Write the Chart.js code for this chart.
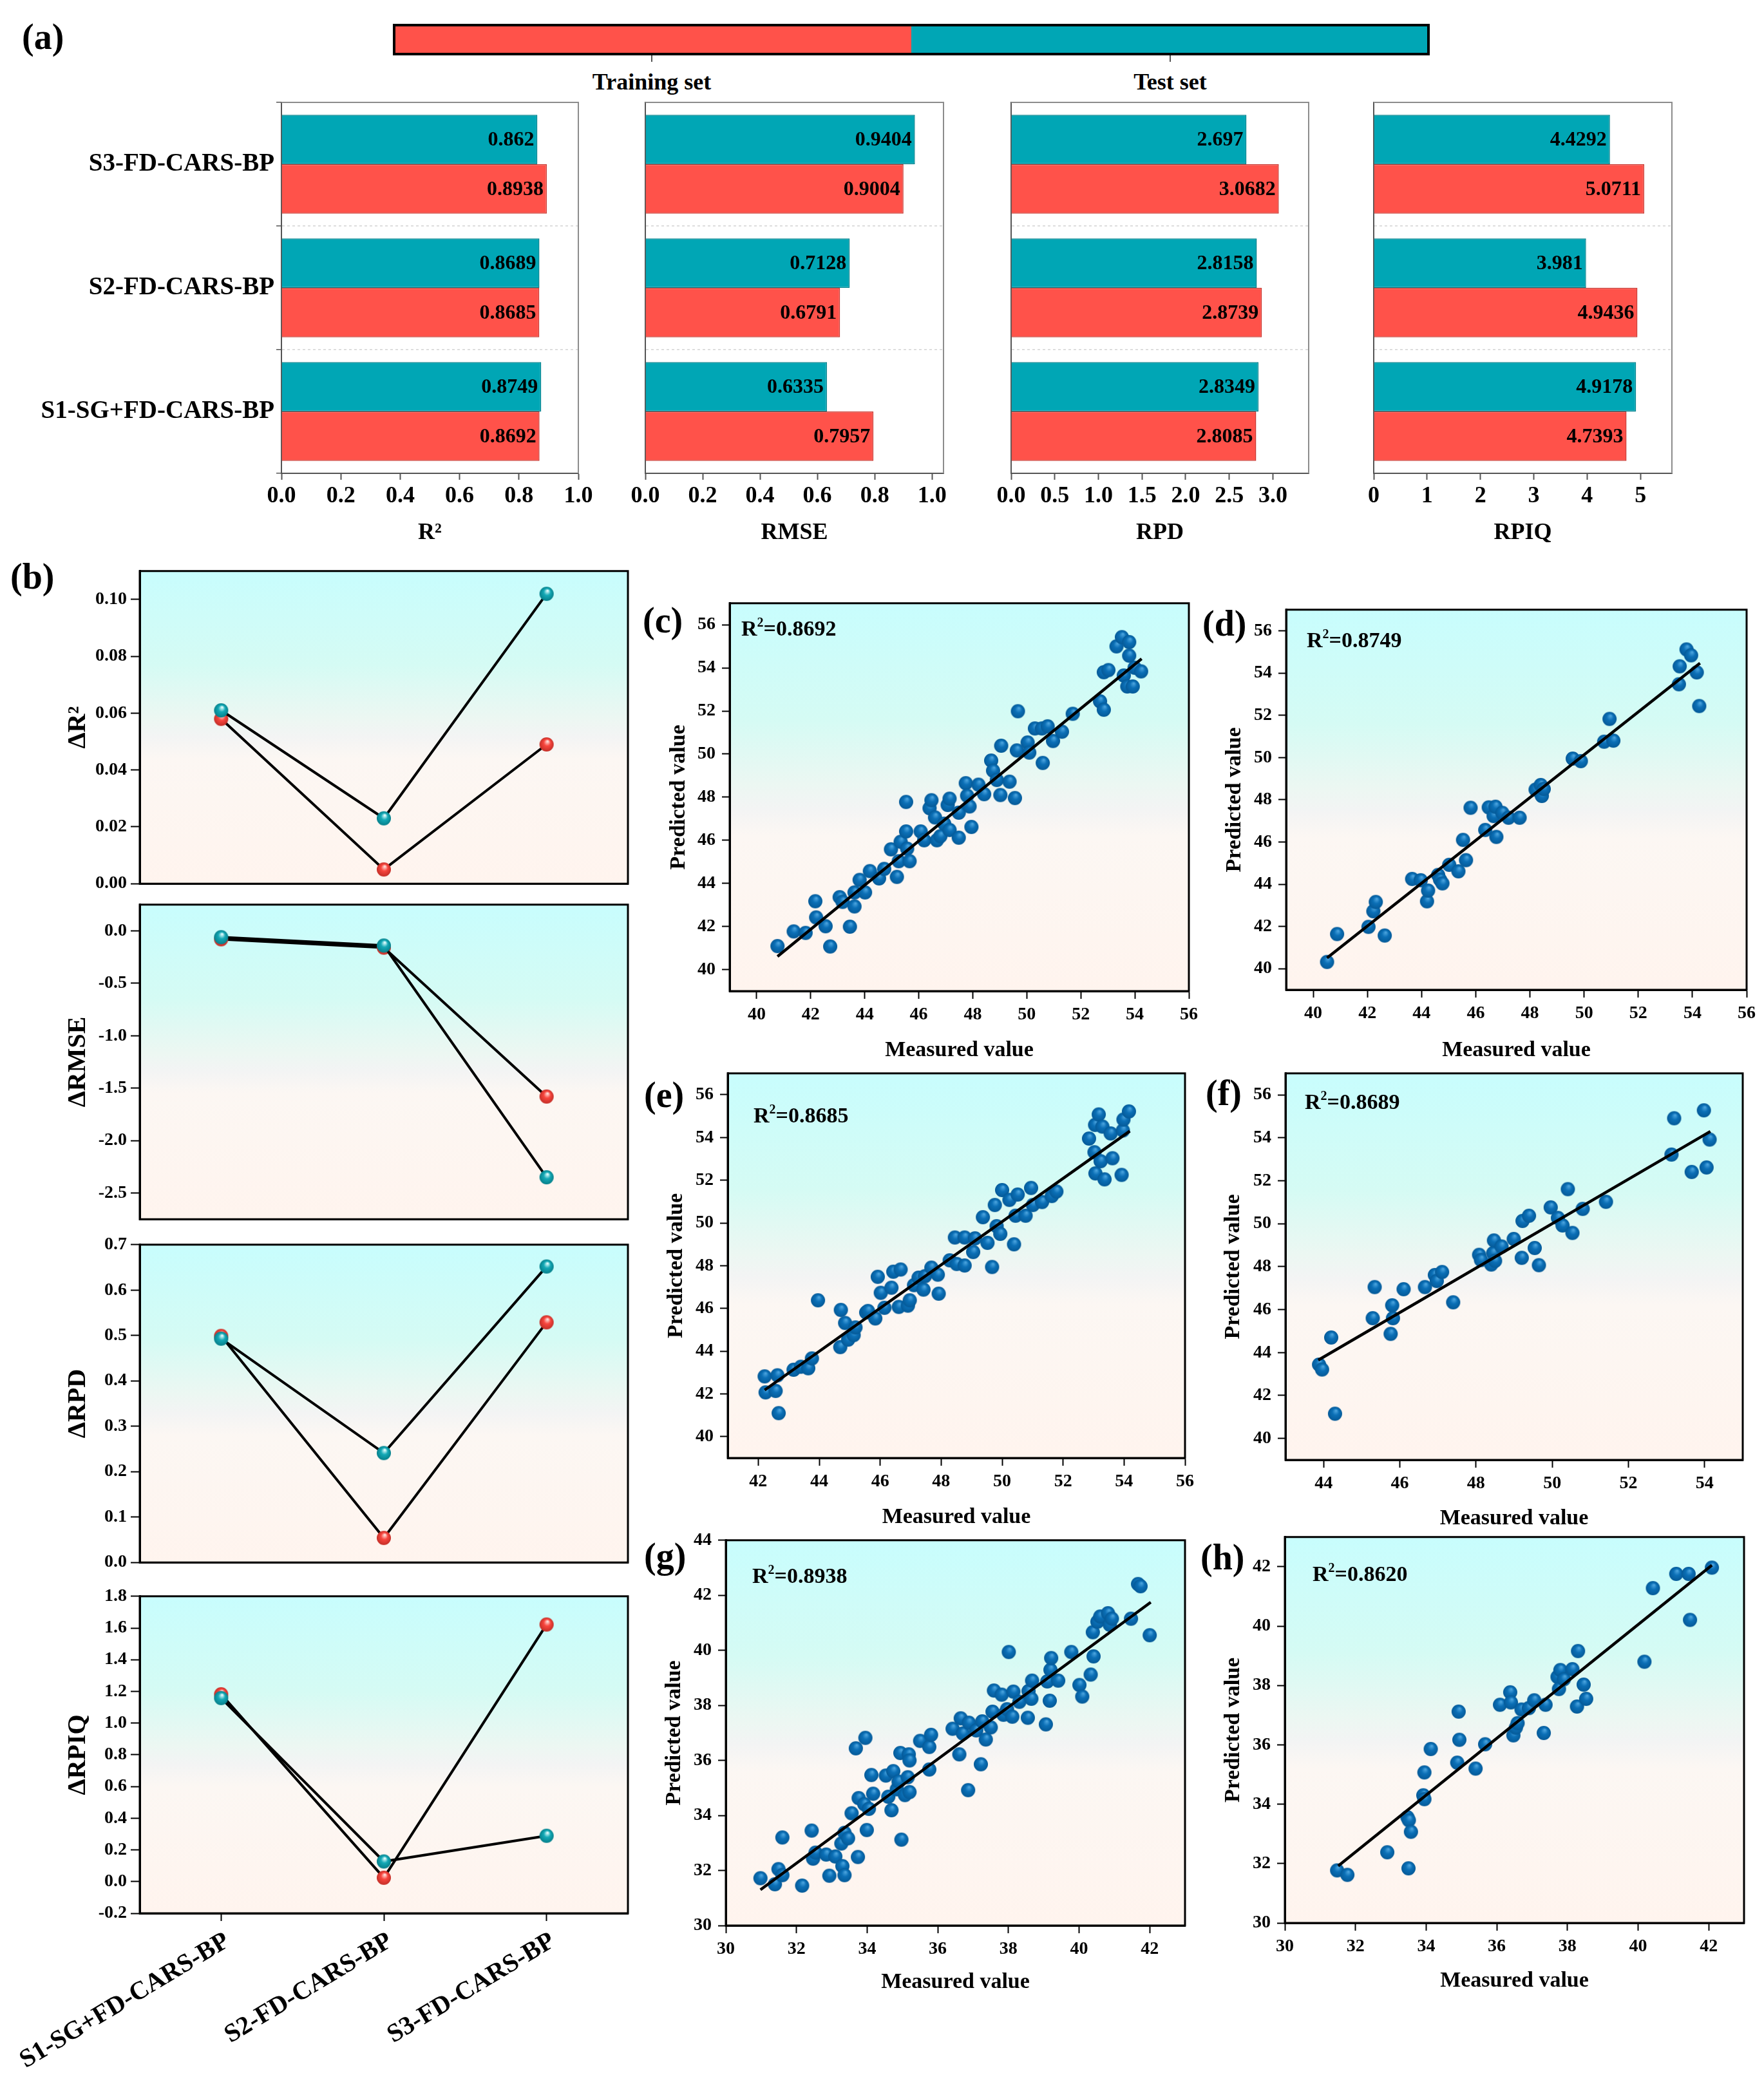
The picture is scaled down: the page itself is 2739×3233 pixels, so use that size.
<!DOCTYPE html>
<html>
<head>
<meta charset="utf-8">
<script src="https://cdn.jsdelivr.net/npm/chart.js@4.4.0/dist/chart.umd.min.js"></script>
<style>
html, body { margin: 0; padding: 0; background: #fff; }
#page { position: relative; width: 2739px; height: 3233px; overflow: hidden; background: #fff;
        font-family: 'Liberation Serif', 'Times New Roman', serif; }
canvas { position: absolute; }
.lab { position: absolute; font-weight: bold; color: #000; white-space: nowrap; }
.panel { font-size: 56px; line-height: 60px; z-index: 5; }
.leg { font-size: 36px; line-height: 40px; transform: translateX(-50%); }
</style>
</head>
<body>
<div id="page">
  <div class="lab panel" style="left:34px;top:27px">(a)</div>
  <div class="lab panel" style="left:16px;top:865px">(b)</div>
  <div class="lab panel" style="left:998px;top:933px">(c)</div>
  <div class="lab panel" style="left:1867px;top:938px">(d)</div>
  <div class="lab panel" style="left:1000px;top:1670px">(e)</div>
  <div class="lab panel" style="left:1872px;top:1667px">(f)</div>
  <div class="lab panel" style="left:1000px;top:2386px">(g)</div>
  <div class="lab panel" style="left:1864px;top:2388px">(h)</div>

  <!-- legend strip: training / test -->
  <div style="position:absolute;left:610px;top:37px;width:1610px;height:49px;box-sizing:border-box;border:4px solid #000;background:linear-gradient(to right,#ff524a 50%,#00a6b5 50%)"></div>
  <div style="position:absolute;left:1011px;top:86px;width:2px;height:10px;background:#555"></div>
  <div style="position:absolute;left:1816px;top:86px;width:2px;height:10px;background:#555"></div>
  <div class="lab leg" style="left:1012px;top:107px">Training set</div>
  <div class="lab leg" style="left:1817px;top:107px">Test set</div>
</div>

<script>
// ---- (a) bar panels ----
const CATS = ['S3-FD-CARS-BP', 'S2-FD-CARS-BP', 'S1-SG+FD-CARS-BP'];
const R2_TEST = [0.862, 0.8689, 0.8749];
const R2_TRAIN = [0.8938, 0.8685, 0.8692];
const RMSE_TEST = [0.9404, 0.7128, 0.6335];
const RMSE_TRAIN = [0.9004, 0.6791, 0.7957];
const RPD_TEST = [2.697, 2.8158, 2.8349];
const RPD_TRAIN = [3.0682, 2.8739, 2.8085];
const RPIQ_TEST = [4.4292, 3.981, 4.9178];
const RPIQ_TRAIN = [5.0711, 4.9436, 4.7393];
const TICKS_01 = [0, 0.2, 0.4, 0.6, 0.8, 1.0];
const TICKS_RPD = [0, 0.5, 1.0, 1.5, 2.0, 2.5, 3.0];
const TICKS_RPIQ = [0, 1, 2, 3, 4, 5];

// ---- (b) difference panels ----
const MODELS = ['S1-SG+FD-CARS-BP', 'S2-FD-CARS-BP', 'S3-FD-CARS-BP'];
const D_R2_TEST = [0.061, 0.023, 0.102];
const D_R2_TRAIN = [0.058, 0.005, 0.049];
const D_RMSE_TEST = [-0.06, -0.14, -2.35];
const D_RMSE_TRAIN = [-0.08, -0.16, -1.58];
const D_RPD_TEST = [0.493, 0.241, 0.652];
const D_RPD_TRAIN = [0.499, 0.054, 0.529];
const D_RPIQ_TEST = [1.158, 0.127, 0.289];
const D_RPIQ_TRAIN = [1.182, 0.024, 1.622];
const TICKS_DR2 = [0, 0.02, 0.04, 0.06, 0.08, 0.10];
const TICKS_DRMSE = [-2.5, -2.0, -1.5, -1.0, -0.5, 0.0];
const TICKS_DRPD = [0, 0.1, 0.2, 0.3, 0.4, 0.5, 0.6, 0.7];
const TICKS_DRPIQ = [-0.2, 0, 0.2, 0.4, 0.6, 0.8, 1.0, 1.2, 1.4, 1.6, 1.8];

// ---- (c)-(h) measured vs predicted ----
const C_MEAS = [40.77,41.37,41.81,42.17,42.20,42.55,42.72,43.07,43.18,43.45,43.62,43.62,43.81,44.01,44.19,44.53,44.72,44.97,45.19,45.26,45.33,45.53,45.53,45.57,45.66,46.07,46.20,46.40,46.47,46.60,46.67,46.80,46.94,47.07,47.14,47.14,47.48,47.48,47.74,47.79,47.88,47.95,48.21,48.42,48.68,48.75,48.89,49.02,49.05,49.36,49.56,49.63,49.67,50.03,50.09,50.30,50.56,50.59,50.77,50.97,51.30,51.70,52.71,52.85,52.85,53.02,53.32,53.52,53.59,53.72,53.79,53.79,53.92,53.99,54.23];
const C_PRED = [41.09,41.77,41.70,43.17,42.42,42.01,41.07,43.36,43.14,41.99,42.93,43.58,44.16,43.58,44.57,44.23,44.67,45.58,44.30,45.03,45.93,47.78,46.41,45.61,45.03,46.41,46.00,47.49,47.86,47.06,46.00,46.19,46.77,47.64,47.93,46.48,47.28,46.12,48.65,48.07,47.57,46.62,48.58,48.14,49.70,49.23,48.80,48.10,50.39,48.72,47.96,50.17,51.99,50.54,50.07,51.19,51.19,49.59,51.29,50.61,51.04,51.87,52.45,52.06,53.80,53.90,55.00,55.43,53.65,53.14,55.20,54.57,53.14,54.01,53.84];
const C_FIT_X = [40.77, 54.25];
const C_FIT_Y = [40.61, 54.42];

const D_MEAS = [40.51,40.88,42.04,42.22,42.31,42.64,43.65,43.97,44.20,44.24,44.61,44.68,44.77,45.02,45.36,45.53,45.64,45.81,46.35,46.48,46.66,46.73,46.76,46.98,47.21,47.62,48.21,48.40,48.44,48.51,49.58,49.88,50.74,50.94,51.08,53.50,53.53,53.78,53.95,54.16,54.25];
const D_PRED = [40.32,41.64,41.98,42.72,43.16,41.57,44.25,44.19,43.19,43.70,44.44,44.22,44.04,44.92,44.61,46.10,45.14,47.62,46.57,47.64,47.23,47.67,46.24,47.38,47.15,47.15,48.48,48.70,48.18,48.51,49.95,49.83,50.75,51.83,50.80,53.47,54.32,55.12,54.84,54.03,52.44];
const D_FIT_X = [40.51, 54.28];
const D_FIT_Y = [40.51, 54.47];

const E_MEAS = [42.21,42.24,42.57,42.63,42.67,43.16,43.40,43.64,43.76,43.96,44.69,44.71,44.85,44.95,45.13,45.19,45.54,45.60,45.84,45.92,46.02,46.14,46.37,46.43,46.61,46.67,46.91,46.97,47.11,47.26,47.42,47.47,47.68,47.89,47.92,48.28,48.45,48.51,48.77,48.77,49.05,49.11,49.37,49.52,49.67,49.76,49.82,49.94,50.00,50.24,50.39,50.44,50.51,50.77,50.95,51.01,51.31,51.63,51.78,52.85,53.03,53.05,53.06,53.17,53.23,53.29,53.36,53.56,53.62,53.92,53.96,53.98,54.16];
const E_PRED = [42.82,42.07,42.14,42.87,41.10,43.13,43.27,43.20,43.66,46.38,44.19,45.93,45.32,44.54,44.75,45.11,45.81,45.88,45.53,47.48,46.73,46.03,46.97,47.72,46.07,47.82,46.13,46.38,47.09,47.44,46.88,47.51,47.91,47.58,46.69,48.25,49.32,48.08,49.32,48.01,48.64,49.28,50.27,49.07,47.94,50.84,49.85,49.49,51.54,51.08,49.00,50.34,51.33,50.34,51.64,50.84,50.98,51.26,51.47,53.95,53.31,54.59,52.32,55.08,52.89,54.51,52.04,54.19,53.03,52.25,54.33,54.84,55.22];
const E_FIT_X = [42.21, 54.19];
const E_FIT_Y = [42.18, 54.30];

const F_MEAS = [43.88,43.96,44.20,44.30,45.29,45.34,45.76,45.80,45.82,46.10,46.66,46.92,46.97,47.11,47.40,48.08,48.13,48.40,48.45,48.47,48.50,48.67,48.99,49.20,49.22,49.39,49.54,49.65,49.96,50.15,50.27,50.41,50.53,50.80,51.41,53.13,53.20,53.66,53.98,54.05,54.13];
const F_PRED = [43.44,43.21,44.70,41.15,45.60,47.05,44.87,46.20,45.60,46.95,47.05,47.61,47.33,47.75,46.34,48.55,48.31,48.10,48.63,49.22,48.27,48.94,49.29,48.41,50.13,50.37,48.87,48.07,50.76,50.27,49.92,51.61,49.57,50.69,51.02,53.22,54.91,52.41,55.28,52.62,53.92];
const F_FIT_X = [43.86, 54.15];
const F_FIT_Y = [43.65, 54.30];

const G_MEAS = [30.98,31.39,31.49,31.60,31.60,32.16,32.43,32.47,32.54,32.84,32.93,33.10,33.27,33.30,33.36,33.36,33.46,33.56,33.68,33.74,33.76,33.92,33.95,33.99,34.05,34.12,34.17,34.53,34.60,34.69,34.74,34.84,34.89,34.94,34.97,35.07,35.15,35.18,35.20,35.20,35.50,35.76,35.76,35.81,36.42,36.61,36.65,36.71,36.86,36.88,37.09,37.22,37.26,37.36,37.50,37.55,37.59,37.81,37.86,37.96,38.01,38.11,38.14,38.31,38.55,38.57,38.65,38.67,39.06,39.10,39.17,39.19,39.21,39.41,39.78,40.01,40.09,40.33,40.39,40.41,40.52,40.60,40.82,40.87,40.93,41.47,41.67,41.74,42.00];
const G_PRED = [31.72,31.50,32.05,31.83,33.20,31.45,33.45,32.43,32.65,32.58,31.81,32.51,32.98,32.16,31.83,33.37,33.17,34.08,36.44,32.49,34.63,34.41,36.82,33.47,34.24,35.47,34.79,35.45,34.68,34.19,35.61,34.95,35.23,36.27,33.12,34.74,35.39,36.22,36.00,34.85,36.71,35.67,36.49,36.93,37.15,36.22,37.53,36.98,34.92,37.37,37.09,35.86,37.42,36.76,37.20,37.77,38.54,38.39,37.66,37.86,39.94,37.59,38.50,38.13,37.55,38.52,38.24,38.90,37.31,38.87,38.17,39.29,39.72,38.90,39.94,38.74,38.32,39.12,40.66,39.78,41.04,41.23,41.35,40.93,41.15,41.15,42.41,42.33,40.55];
const G_FIT_X = [30.98, 42.03];
const G_FIT_Y = [31.30, 41.75];

const H_MEAS = [31.48,31.77,32.90,33.47,33.51,33.50,33.57,33.92,33.95,33.95,34.13,34.88,34.92,34.94,35.40,35.67,36.09,36.38,36.40,36.47,36.54,36.59,36.70,36.91,37.06,37.33,37.38,37.72,37.76,37.80,37.90,38.14,38.27,38.30,38.46,38.53,40.18,40.42,41.08,41.43,41.47,42.09];
const H_PRED = [31.77,31.62,32.38,33.56,33.46,31.84,33.07,34.30,34.17,35.07,35.86,35.40,37.12,36.17,35.20,36.02,37.35,37.77,37.43,36.32,36.58,36.73,37.19,37.24,37.50,36.40,37.35,38.29,37.88,38.52,38.21,38.55,37.29,39.16,38.03,37.55,38.80,41.28,41.76,41.76,40.21,41.97];
const H_FIT_X = [31.51, 42.09];
const H_FIT_Y = [31.92, 42.05];

const TICKS_40_56 = [40, 42, 44, 46, 48, 50, 52, 54, 56];
const TICKS_42_56 = [42, 44, 46, 48, 50, 52, 54, 56];
const TICKS_44_54 = [44, 46, 48, 50, 52, 54];
const TICKS_30_42 = [30, 32, 34, 36, 38, 40, 42];
const TICKS_30_44 = [30, 32, 34, 36, 38, 40, 42, 44];

const TEAL = '#00a6b5', TEAL_EDGE = '#00808c';
const RED = '#ff524a', RED_EDGE = '#c93a33';
const FONT = "'Liberation Serif', 'Times New Roman', serif";

Chart.defaults.font.family = FONT;
Chart.defaults.font.weight = 'bold';
Chart.defaults.color = '#000';

const page = document.getElementById('page');

function mkCanvas(x, y, w, h) {
    const c = document.createElement('canvas');
    c.width = w; c.height = h;
    c.style.left = x + 'px'; c.style.top = y + 'px';
    c.style.width = w + 'px'; c.style.height = h + 'px';
    page.appendChild(c);
    return c;
}

// little shaded ball used as point style
function sphere(r, light, base, dark) {
    const c = document.createElement('canvas');
    c.width = c.height = 2 * r + 2;
    const g = c.getContext('2d');
    const grd = g.createRadialGradient(r + 1 + r * 0.15, r + 1 - r * 0.45, r * 0.05, r + 1, r + 1, r);
    grd.addColorStop(0, light);
    grd.addColorStop(0.45, base);
    grd.addColorStop(1, dark);
    g.fillStyle = grd;
    g.beginPath(); g.arc(r + 1, r + 1, r, 0, Math.PI * 2); g.fill();
    return c;
}
const SPH_TEAL = sphere(11, '#e6ffff', '#14a9b6', '#06808b');
const SPH_RED = sphere(11, '#ffe2de', '#f8463e', '#c52f28');
const SPH_BLUE = sphere(11, '#4aa3de', '#0b6fb6', '#055a98');

function fixedTicks(arr) {
    return s => { s.ticks = arr.map(v => ({value: v})); };
}

const bgPlugin = {
    id: 'bgGrad',
    beforeDraw(chart) {
        const a = chart.chartArea, ctx = chart.ctx;
        const g = ctx.createLinearGradient(0, a.top, 0, a.bottom);
        g.addColorStop(0, '#c8fdfd');
        g.addColorStop(0.3, '#d5fbf4');
        g.addColorStop(0.47, '#ecf7f2');
        g.addColorStop(0.53, '#f3f4f4');
        g.addColorStop(0.6, '#fcf7f3');
        g.addColorStop(1, '#fff4ee');
        ctx.save();
        ctx.fillStyle = g;
        ctx.fillRect(a.left, a.top, a.right - a.left, a.bottom - a.top);
        ctx.restore();
    }
};

function edgePlugin(color, width, full) {
    return {
        id: 'edge',
        afterDraw(chart) {
            const a = chart.chartArea, ctx = chart.ctx;
            ctx.save();
            ctx.strokeStyle = color; ctx.lineWidth = width;
            ctx.beginPath();
            if (full) {
                ctx.rect(a.left, a.top, a.right - a.left, a.bottom - a.top);
            } else {
                ctx.moveTo(a.left, a.top); ctx.lineTo(a.right, a.top); ctx.lineTo(a.right, a.bottom);
            }
            ctx.stroke();
            ctx.restore();
        }
    };
}

const barLabelPlugin = {
    id: 'barLabels',
    afterDatasetsDraw(chart) {
        const ctx = chart.ctx;
        ctx.save();
        ctx.font = 'bold 32px ' + FONT;
        ctx.fillStyle = '#000'; ctx.textAlign = 'right'; ctx.textBaseline = 'middle';
        chart.data.datasets.forEach((ds, i) => {
            chart.getDatasetMeta(i).data.forEach((el, j) => {
                ctx.fillText(String(ds.data[j]), el.x - 5, el.y + 1);
            });
        });
        ctx.restore();
    }
};

function r2Plugin(text, off) {
    return {
        id: 'r2',
        afterDatasetsDraw(chart) {
            const a = chart.chartArea, ctx = chart.ctx;
            let x = a.left + off[0];
            const y = a.top + off[1] + 12;
            ctx.save();
            ctx.fillStyle = '#000'; ctx.textAlign = 'left'; ctx.textBaseline = 'alphabetic';
            ctx.font = 'bold 34px ' + FONT;
            ctx.fillText('R', x, y); x += ctx.measureText('R').width;
            ctx.font = 'bold 20px ' + FONT;
            ctx.fillText('2', x, y - 14); x += ctx.measureText('2').width;
            ctx.font = 'bold 34px ' + FONT;
            ctx.fillText('=' + text, x, y);
            ctx.restore();
        }
    };
}

function barPanel(cfg) {
    const [bx, bw] = cfg.box;
    const [al, ar] = cfg.area;
    const top = 100, h = 749, areaTop = 159, areaBot = 735;
    const cvs = mkCanvas(bx, top, bw, h);
    new Chart(cvs, {
        type: 'bar',
        data: {
            labels: CATS,
            datasets: [
                {label: 'Test set', data: cfg.test, backgroundColor: TEAL, borderColor: TEAL_EDGE,
                 borderWidth: 1.5, categoryPercentage: 0.8, barPercentage: 1.0},
                {label: 'Training set', data: cfg.train, backgroundColor: RED, borderColor: RED_EDGE,
                 borderWidth: 1.5, categoryPercentage: 0.8, barPercentage: 1.0}
            ]
        },
        options: {
            indexAxis: 'y', responsive: false, animation: false, devicePixelRatio: 1,
            layout: {padding: {top: areaTop - top, right: bx + bw - ar, left: 0, bottom: 0}},
            plugins: {legend: {display: false}, tooltip: {enabled: false}},
            scales: {
                x: {
                    type: 'linear', min: 0, max: cfg.max,
                    afterBuildTicks: fixedTicks(cfg.ticks),
                    afterFit: s => { s.height = top + h - areaBot; },
                    grid: {drawOnChartArea: false, drawTicks: true, tickLength: 10, tickColor: '#555', tickWidth: 2},
                    border: {color: '#555', width: 2},
                    ticks: {padding: 4, autoSkip: false, maxRotation: 0, font: {size: 36},
                            callback: v => v.toFixed(cfg.dec)},
                    title: {display: true, text: cfg.title, font: {size: 36}, padding: 0}
                },
                y: {
                    afterFit: s => { s.width = al - bx; },
                    grid: {offset: true, color: '#d4d4d4', lineWidth: 1.5, drawTicks: cfg.cats,
                           tickLength: 8, tickColor: '#555'},
                    border: {color: '#555', width: 2, dash: [4, 4]},
                    ticks: {display: cfg.cats, padding: 3, font: {size: 39}}
                }
            }
        },
        plugins: [edgePlugin('#8c8c8c', 2, false), barLabelPlugin]
    });
}

function deltaPanel(cfg) {
    // canvas starts at the page edge so the slanted model names fit
    const x = 0, w = 990, al = 217, ar = 976, titleAt = 98;
    const [t, b] = cfg.area;
    const ctop = t - 22;
    const cbot = cfg.showX ? 3233 : b + 22;
    const cvs = mkCanvas(x, ctop, w, cbot - ctop);
    new Chart(cvs, {
        type: 'line',
        data: {
            labels: MODELS,
            datasets: [
                {label: 'Test set', data: cfg.test, borderColor: '#000', borderWidth: 4,
                 pointStyle: SPH_TEAL, pointRadius: 11},
                {label: 'Training set', data: cfg.train, borderColor: '#000', borderWidth: 4,
                 pointStyle: SPH_RED, pointRadius: 11}
            ]
        },
        options: {
            responsive: false, animation: false, devicePixelRatio: 1,
            layout: {padding: {top: 22, right: x + w - ar, left: 0, bottom: 0}},
            plugins: {legend: {display: false}, tooltip: {enabled: false}},
            scales: {
                x: {
                    type: 'category', offset: true,
                    afterFit: s => { s.height = cbot - b; s.paddingLeft = 0; s.paddingRight = 0; },
                    grid: {drawOnChartArea: false, drawTicks: cfg.showX, tickLength: 12, tickColor: '#000', tickWidth: 2},
                    border: {color: '#000', width: 3},
                    ticks: {display: cfg.showX, minRotation: 31, maxRotation: 31, padding: 8, labelOffset: 10,
                            autoSkip: false, font: {size: 40}}
                },
                y: {
                    type: 'linear', min: cfg.min, max: cfg.max,
                    afterBuildTicks: fixedTicks(cfg.ticks),
                    afterFit: s => { s.width = al - x; },
                    grid: {drawOnChartArea: false, drawTicks: true, tickLength: 14, tickColor: '#000', tickWidth: 2},
                    border: {color: '#000', width: 3},
                    ticks: {padding: 6, autoSkip: false, font: {size: 28}, callback: v => v.toFixed(cfg.dec)},
                    title: {display: true, text: cfg.title, font: {size: 40}, padding: {top: titleAt, bottom: 0}}
                }
            }
        },
        plugins: [bgPlugin, edgePlugin('#000', 3, true)]
    });
}

function scatterPanel(cfg) {
    const [bx, by, br, bb] = cfg.box;
    const [al, at, ar, ab] = cfg.area;
    const cvs = mkCanvas(bx, by, br - bx, bb - by);
    const pts = cfg.xs.map((v, i) => ({x: v, y: cfg.ys[i]}));
    const fit = cfg.fitX.map((v, i) => ({x: v, y: cfg.fitY[i]}));
    new Chart(cvs, {
        type: 'scatter',
        data: {
            datasets: [
                {label: 'fit', data: fit, showLine: true, borderColor: '#000', borderWidth: 4.5,
                 pointRadius: 0, order: 0},
                {label: 'samples', data: pts, pointStyle: SPH_BLUE, pointRadius: 11, order: 1}
            ]
        },
        options: {
            responsive: false, animation: false, devicePixelRatio: 1,
            layout: {padding: {top: at - by, right: br - ar, left: 0, bottom: 0}},
            plugins: {legend: {display: false}, tooltip: {enabled: false}},
            scales: {
                x: {
                    type: 'linear', min: cfg.xr[0], max: cfg.xr[1],
                    afterBuildTicks: fixedTicks(cfg.xt),
                    afterFit: s => { s.height = bb - ab; },
                    grid: {drawOnChartArea: false, drawTicks: true, tickLength: 12, tickColor: '#000', tickWidth: 2},
                    border: {color: '#000', width: 3},
                    ticks: {padding: 8, autoSkip: false, maxRotation: 0, font: {size: 28}, callback: v => String(v)},
                    title: {display: true, text: 'Measured value', font: {size: 34}, padding: 0}
                },
                y: {
                    type: 'linear', min: cfg.yr[0], max: cfg.yr[1],
                    afterBuildTicks: fixedTicks(cfg.yt),
                    afterFit: s => { s.width = al - bx; },
                    grid: {drawOnChartArea: false, drawTicks: true, tickLength: 12, tickColor: '#000', tickWidth: 2},
                    border: {color: '#000', width: 3},
                    ticks: {padding: 10, autoSkip: false, font: {size: 28}, callback: v => String(v)},
                    title: {display: true, text: 'Predicted value', font: {size: 34}, padding: 0}
                }
            }
        },
        plugins: [bgPlugin, edgePlugin('#000', 3, true), r2Plugin(cfg.r2, cfg.r2At)]
    });
}

// (a)
barPanel({box: [0, 940], area: [437, 898], test: R2_TEST, train: R2_TRAIN, max: 1.0,
          ticks: TICKS_01, dec: 1, title: 'R²', cats: true});
barPanel({box: [950, 560], area: [1002, 1465], test: RMSE_TEST, train: RMSE_TRAIN, max: 1.04,
          ticks: TICKS_01, dec: 1, title: 'RMSE', cats: false});
barPanel({box: [1520, 560], area: [1570, 2032], test: RPD_TEST, train: RPD_TRAIN, max: 3.41,
          ticks: TICKS_RPD, dec: 1, title: 'RPD', cats: false});
barPanel({box: [2085, 565], area: [2133, 2596], test: RPIQ_TEST, train: RPIQ_TRAIN, max: 5.59,
          ticks: TICKS_RPIQ, dec: 0, title: 'RPIQ', cats: false});

// (b)
deltaPanel({area: [886, 1373], test: D_R2_TEST, train: D_R2_TRAIN, min: 0, max: 0.11,
            ticks: TICKS_DR2, dec: 2, title: 'ΔR²', showX: false});
deltaPanel({area: [1404, 1894], test: D_RMSE_TEST, train: D_RMSE_TRAIN, min: -2.75, max: 0.25,
            ticks: TICKS_DRMSE, dec: 1, title: 'ΔRMSE', showX: false});
deltaPanel({area: [1932, 2427], test: D_RPD_TEST, train: D_RPD_TRAIN, min: 0, max: 0.7,
            ticks: TICKS_DRPD, dec: 1, title: 'ΔRPD', showX: false});
deltaPanel({area: [2478, 2971], test: D_RPIQ_TEST, train: D_RPIQ_TRAIN, min: -0.2, max: 1.8,
            ticks: TICKS_DRPIQ, dec: 1, title: 'ΔRPIQ', showX: true});

// (c)-(h)
scatterPanel({box: [1034, 910, 1880, 1652], area: [1133, 935, 1846, 1539], xs: C_MEAS, ys: C_PRED,
              fitX: C_FIT_X, fitY: C_FIT_Y, xr: [39, 56], xt: TICKS_40_56, yr: [39, 57], yt: TICKS_40_56,
              r2: '0.8692', r2At: [18, 38]});
scatterPanel({box: [1897, 920, 2739, 1652], area: [1997, 944, 2712, 1537], xs: D_MEAS, ys: D_PRED,
              fitX: D_FIT_X, fitY: D_FIT_Y, xr: [39, 56], xt: TICKS_40_56, yr: [39, 57], yt: TICKS_40_56,
              r2: '0.8749', r2At: [32, 46]});
scatterPanel({box: [1030, 1640, 1880, 2377], area: [1130, 1663, 1840, 2264], xs: E_MEAS, ys: E_PRED,
              fitX: E_FIT_X, fitY: E_FIT_Y, xr: [41, 56], xt: TICKS_42_56, yr: [39, 57], yt: TICKS_40_56,
              r2: '0.8685', r2At: [40, 64]});
scatterPanel({box: [1895, 1640, 2739, 2379], area: [1996, 1662, 2706, 2267], xs: F_MEAS, ys: F_PRED,
              fitX: F_FIT_X, fitY: F_FIT_Y, xr: [43, 55], xt: TICKS_44_54, yr: [39, 57], yt: TICKS_40_56,
              r2: '0.8689', r2At: [30, 43]});
scatterPanel({box: [1027, 2365, 1880, 3099], area: [1127, 2388, 1840, 2990], xs: G_MEAS, ys: G_PRED,
              fitX: G_FIT_X, fitY: G_FIT_Y, xr: [30, 43], xt: TICKS_30_42, yr: [30, 44], yt: TICKS_30_44,
              r2: '0.8938', r2At: [41, 54]});
scatterPanel({box: [1895, 2360, 2739, 3097], area: [1995, 2384, 2708, 2986], xs: H_MEAS, ys: H_PRED,
              fitX: H_FIT_X, fitY: H_FIT_Y, xr: [30, 43], xt: TICKS_30_42, yr: [30, 43], yt: TICKS_30_42,
              r2: '0.8620', r2At: [43, 56]});
</script>
</body>
</html>
